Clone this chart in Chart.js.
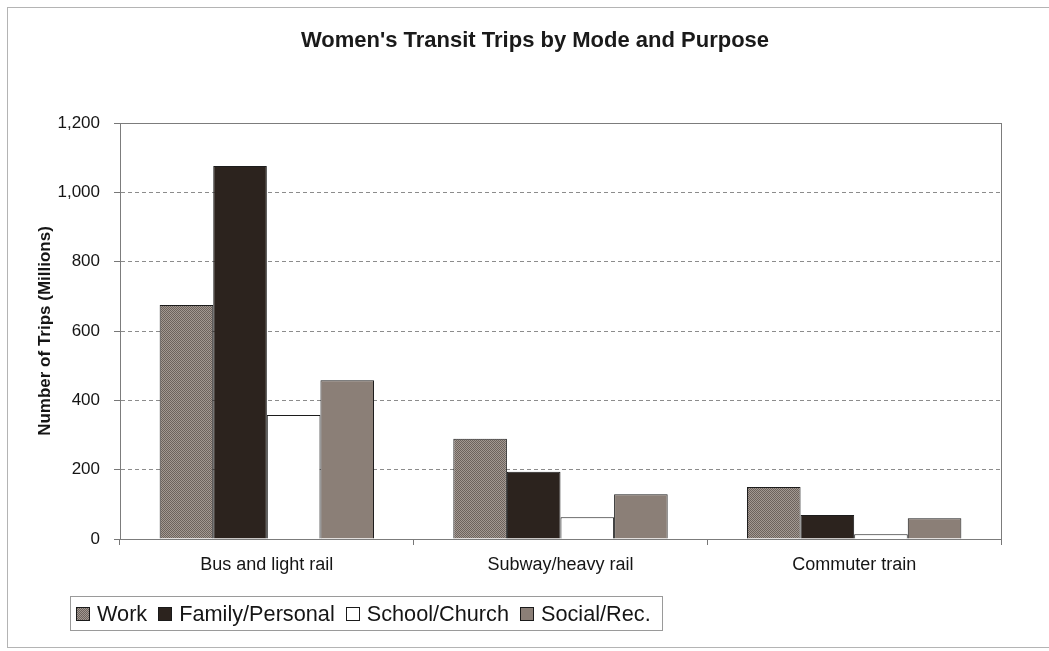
<!DOCTYPE html>
<html>
<head>
<meta charset="utf-8">
<script src="https://cdn.jsdelivr.net/npm/chart.js@4.4.1/dist/chart.umd.min.js"></script>
<style>
  html, body { margin: 0; padding: 0; background: #ffffff; overflow: hidden; }
  body { width: 1049px; height: 651px; position: relative; font-family: "Liberation Sans", Arial, sans-serif; }
  #frame { position: absolute; left: 7px; top: 7px; width: 1060px; height: 641px; border: 1px solid #b4b4b4; box-sizing: border-box; }
  #chart { position: absolute; left: 0; top: 0; }
  #legend { position: absolute; left: 70px; top: 596px; width: 593px; height: 35px; border: 1px solid #9a9a9a;
            box-sizing: border-box; display: flex; align-items: center; padding-left: 5px; color: #151515;
            font-size: 21.7px; white-space: nowrap; }
  #legend .item { display: flex; align-items: center; margin-right: 11px; }
  #legend .sw { width: 14px; height: 14px; border: 1px solid #1a1a1a; margin-right: 7px; box-sizing: border-box; }
</style>
</head>
<body>
<div id="frame"></div>
<canvas id="chart" width="1049" height="651"></canvas>
<div id="legend"></div>
<script>
// Women's transit trips (millions) by mode and trip purpose
const chartTitle = "Women's Transit Trips by Mode and Purpose";
const yAxisTitle = 'Number of Trips (Millions)';
const categories = ['Bus and light rail', 'Subway/heavy rail', 'Commuter train'];
const seriesNames = ['Work', 'Family/Personal', 'School/Church', 'Social/Rec.'];
const work = [675, 289, 150];
const familyPersonal = [1076, 194, 69];
const schoolChurch = [358, 63, 14];
const socialRec = [458, 129, 60];
const yMax = 1200;
const yStep = 200;

// fine dotted fill used for the Work series
function dotTile() {
  const c = document.createElement('canvas');
  c.width = 2; c.height = 2;
  const g = c.getContext('2d');
  g.fillStyle = '#a39992'; g.fillRect(0, 0, 2, 2);
  g.fillStyle = '#6c625c'; g.fillRect(0, 0, 1, 1); g.fillRect(1, 1, 1, 1);
  return c;
}
const tile = dotTile();
const ctx = document.getElementById('chart').getContext('2d');
const workFill = ctx.createPattern(tile, 'repeat');

const fills = [workFill, '#2c231e', '#ffffff', '#8b7f77'];
const swatchCss = ['url(' + tile.toDataURL() + ')', '#2c231e', '#ffffff', '#8b7f77'];
const values = [work, familyPersonal, schoolChurch, socialRec];

const datasets = seriesNames.map((name, i) => ({
  label: name,
  data: values[i],
  backgroundColor: fills[i],
  borderColor: '#1c1c1c',
  borderWidth: 1,
  categoryPercentage: 0.73,
  barPercentage: 1.0
}));

// plot frame and chart title
const framePlugin = {
  id: 'plotFrame',
  afterDatasetsDraw(chart) {
    const { ctx, chartArea: a } = chart;
    ctx.save();
    ctx.setLineDash([]);
    ctx.strokeStyle = '#7c7c7c';
    ctx.lineWidth = 1;
    ctx.strokeRect(Math.round(a.left) + 0.5, Math.round(a.top) + 0.5,
                   Math.round(a.right - a.left), Math.round(a.bottom - a.top));
    ctx.restore();
  },
  afterDraw(chart) {
    const c = chart.ctx;
    c.save();
    c.font = 'bold 22px "Liberation Sans", Arial, sans-serif';
    c.fillStyle = '#1a1a1a';
    c.textAlign = 'center';
    c.textBaseline = 'middle';
    c.fillText(chartTitle, 535, 41);
    c.restore();
  }
};

const chart = new Chart(ctx, {
  type: 'bar',
  data: { labels: categories, datasets },
  options: {
    responsive: false,
    animation: false,
    devicePixelRatio: 1,
    layout: { padding: { top: 123, right: 48, bottom: 67, left: 0 } },
    plugins: {
      legend: { display: false },
      title: { display: false },
      tooltip: { enabled: false }
    },
    scales: {
      x: {
        afterFit(s) { s.height = 45; },
        grid: { display: true, drawOnChartArea: false, drawTicks: true, tickLength: 6, color: '#777777', offset: true },
        border: { display: true, color: '#707070', width: 1 },
        ticks: { color: '#151515', padding: 9, font: { family: '"Liberation Sans", Arial, sans-serif', size: 18 } }
      },
      y: {
        min: 0,
        max: yMax,
        afterFit(s) { s.width = 120; },
        ticks: {
          stepSize: yStep,
          color: '#151515',
          padding: 14,
          font: { family: '"Liberation Sans", Arial, sans-serif', size: 17 },
          callback: v => Number(v).toLocaleString('en-US')
        },
        grid: { color: '#8c8c8c', tickLength: 6, tickColor: '#777777', tickBorderDash: [] },
        border: { display: true, color: '#707070', width: 1, dash: [4, 3] },
        title: {
          display: true,
          text: yAxisTitle,
          color: '#151515',
          padding: { top: 35, bottom: 0 },
          font: { family: '"Liberation Sans", Arial, sans-serif', size: 17, weight: 'bold' }
        }
      }
    }
  },
  plugins: [framePlugin]
});

// legend built from the chart's datasets
const legendEl = document.getElementById('legend');
chart.data.datasets.forEach((ds, i) => {
  const item = document.createElement('div');
  item.className = 'item';
  const sw = document.createElement('span');
  sw.className = 'sw';
  sw.style.background = swatchCss[i];
  const tx = document.createElement('span');
  tx.textContent = ds.label;
  item.appendChild(sw);
  item.appendChild(tx);
  legendEl.appendChild(item);
});
</script>
</body>
</html>
